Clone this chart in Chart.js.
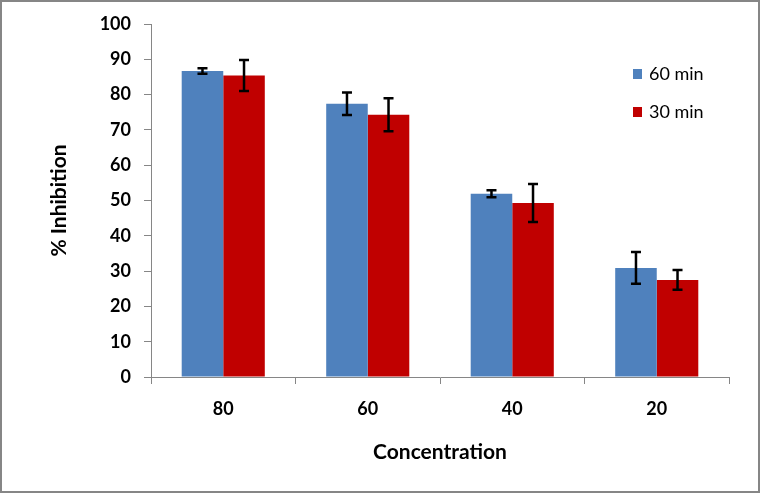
<!DOCTYPE html>
<html>
<head>
<meta charset="utf-8">
<script src="https://cdn.jsdelivr.net/npm/chart.js@4.4.0/dist/chart.umd.min.js"></script>
<style>
  html, body { margin: 0; padding: 0; background: #ffffff; }
  #wrap { width: 760px; height: 493px; position: relative; }
</style>
</head>
<body>
<div id="wrap"><canvas id="c" width="760" height="493"></canvas></div>
<script>
const categories = ['80', '60', '40', '20'];
const seriesLabels = ['60 min', '30 min'];
const values60 = [86.7, 77.4, 51.9, 30.9];
const values30 = [85.4, 74.3, 49.3, 27.5];
const errors60 = [0.8, 3.2, 1.0, 4.5];
const errors30 = [4.4, 4.7, 5.4, 2.8];
const yTickMin = 0, yTickMax = 100, yTickStep = 10;

const BLUE = '#4F81BD';
const RED = '#C00000';
const AXIS = '#868686';
const FONT = "Lato, 'Open Sans', 'Liberation Sans', sans-serif";

const errorBars = {
  id: 'errorBars',
  afterDatasetsDraw(chart) {
    const ctx = chart.ctx;
    const y = chart.scales.y;
    ctx.save();
    ctx.strokeStyle = '#000000';
    ctx.lineWidth = 2.5;
    chart.data.datasets.forEach((ds, di) => {
      const meta = chart.getDatasetMeta(di);
      meta.data.forEach((bar, i) => {
        const v = ds.data[i], e = ds.errors[i];
        const top = y.getPixelForValue(v + e);
        const bot = y.getPixelForValue(v - e);
        const x = bar.x, cap = 5;
        ctx.beginPath();
        ctx.moveTo(x, top); ctx.lineTo(x, bot);
        ctx.moveTo(x - cap, top); ctx.lineTo(x + cap, top);
        ctx.moveTo(x - cap, bot); ctx.lineTo(x + cap, bot);
        ctx.stroke();
      });
    });
    ctx.restore();
  }
};

const customLegend = {
  id: 'customLegend',
  afterDraw(chart) {
    const ctx = chart.ctx;
    ctx.save();
    ctx.font = '18px ' + FONT;
    ctx.textBaseline = 'middle';
    ctx.textAlign = 'left';
    chart.data.datasets.forEach((ds, i) => {
      const cy = 74 + 38 * i;
      ctx.fillStyle = ds.backgroundColor;
      ctx.fillRect(633, cy - 5, 9, 10);
      ctx.fillStyle = '#000000';
      ctx.fillText(ds.label, 649, cy);
    });
    ctx.restore();
  }
};

const frame = {
  id: 'frame',
  beforeDraw(chart) {
    const ctx = chart.ctx;
    ctx.save();
    ctx.fillStyle = '#ffffff';
    ctx.fillRect(0, 0, chart.width, chart.height);
    ctx.restore();
  },
  afterDraw(chart) {
    const ctx = chart.ctx;
    ctx.save();
    ctx.strokeStyle = AXIS;
    ctx.lineWidth = 2;
    ctx.strokeRect(1, 1, chart.width - 2, chart.height - 2);
    ctx.restore();
  }
};

new Chart(document.getElementById('c'), {
  type: 'bar',
  data: {
    labels: categories,
    datasets: [
      { label: seriesLabels[0], data: values60, errors: errors60, backgroundColor: BLUE },
      { label: seriesLabels[1], data: values30, errors: errors30, backgroundColor: RED }
    ]
  },
  options: {
    responsive: false,
    animation: false,
    devicePixelRatio: 1,
    layout: { padding: { left: 0, right: 31, top: 24, bottom: 0 } },
    datasets: { bar: { barPercentage: 1.0, categoryPercentage: 0.575 } },
    plugins: { legend: { display: false }, tooltip: { enabled: false } },
    scales: {
      x: {
        grid: { drawOnChartArea: false, drawTicks: true, tickLength: 7, color: AXIS, offset: true },
        border: { display: true, color: AXIS, width: 1 },
        ticks: { color: '#000000', font: { family: FONT, size: 18, weight: 'bold' }, padding: 14, maxRotation: 0 },
        title: { display: true, text: 'Concentration', color: '#000000',
                 font: { family: FONT, size: 21, weight: 'bold' }, padding: { top: 0, bottom: 28 } },
        afterFit(s) { s.height = 116; }
      },
      y: {
        min: yTickMin, max: yTickMax,
        grid: { drawOnChartArea: false, drawTicks: true, tickLength: 7, color: AXIS },
        border: { display: true, color: AXIS, width: 1 },
        ticks: { stepSize: yTickStep, color: '#000000', font: { family: FONT, size: 18, weight: 'bold' }, padding: 13 },
        title: { display: true, text: '% Inhibition', color: '#000000',
                 font: { family: FONT, size: 21, weight: 'bold' }, padding: { top: 47, bottom: 0 } },
        afterFit(s) { s.width = 151; }
      }
    }
  },
  plugins: [frame, errorBars, customLegend]
});
</script>
</body>
</html>
